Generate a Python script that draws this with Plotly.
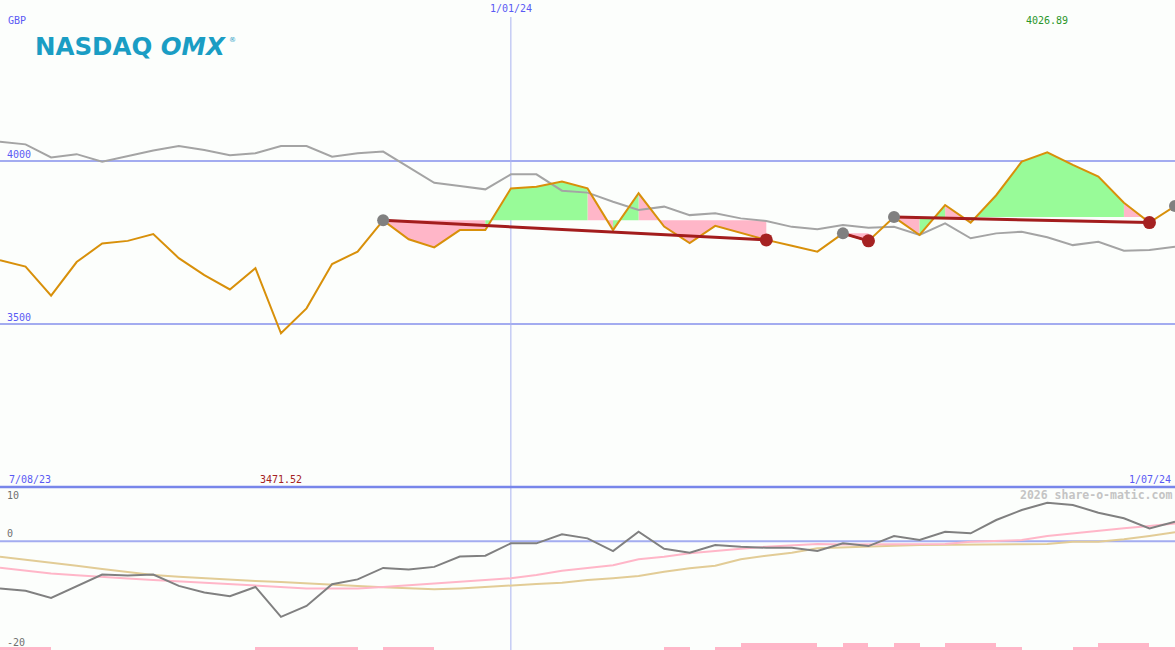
import plotly.graph_objects as go
import pandas as pd
import numpy as np

# ---------------- data ----------------
dates = pd.date_range("2023-08-14", "2024-07-01", freq="7D")  # weekly, 47 points

price = [3696, 3676, 3587, 3690, 3747, 3755, 3776, 3702, 3650, 3606, 3671, 3471.52,
         3548, 3684, 3722, 3818, 3760, 3735, 3788, 3788, 3916, 3921, 3937, 3916,
         3788, 3901, 3799, 3748, 3801, 3779, 3758, 3740, 3722, 3778, 3755, 3828,
         3773, 3865, 3811, 3895, 3998, 4026.89, 3988, 3952, 3872, 3811, 3862]

compare = [4059, 4051, 4011, 4021, 3998, 4015, 4032, 4046, 4034, 4018, 4024, 4046,
           4046, 4013, 4024, 4029, 3982, 3933, 3923, 3913, 3959, 3959, 3909, 3903,
           3875, 3850, 3860, 3834, 3840, 3824, 3816, 3798, 3791, 3804, 3795, 3798,
           3773, 3809, 3763, 3778, 3783, 3766, 3742, 3752, 3725, 3727, 3737]

momentum = [-8.66, -9.1, -10.4, -8.2, -6.1, -6.3, -6.1, -8.2, -9.4, -10.1, -8.4, -13.9,
            -11.9, -7.9, -7.0, -4.9, -5.2, -4.7, -2.8, -2.65, -0.37, -0.37, 1.29, 0.55,
            -1.79, 1.77, -1.36, -2.1, -0.68, -0.99, -1.18, -1.18, -1.79, -0.37, -0.87, 0.98,
            0.24, 1.77, 1.47, 3.92, 5.76, 7.1, 6.7, 5.27, 4.24, 2.39, 3.6]

mom_avg_fast = [-4.86, -5.4, -5.9, -6.25, -6.6, -6.85, -7.1, -7.35, -7.6, -7.8, -8.05, -8.35,
                -8.66, -8.7, -8.66, -8.4, -8.05, -7.7, -7.4, -7.1, -6.8, -6.2, -5.4, -4.86,
                -4.4, -3.3, -2.84, -2.2, -1.73, -1.36, -0.99, -0.81, -0.5, -0.6, -0.6, -0.6,
                -0.5, -0.5, -0.07, 0.1, 0.24, 0.98, 1.47, 1.96, 2.4, 2.8, 3.3]

mom_avg_slow = [-2.84, -3.35, -3.87, -4.5, -5.1, -5.65, -6.2, -6.5, -6.8, -7.05, -7.3, -7.5,
                -7.7, -7.95, -8.2, -8.45, -8.66, -8.84, -8.66, -8.36, -8.05, -7.86, -7.6, -7.1,
                -6.8, -6.4, -5.6, -4.97, -4.5, -3.3, -2.65, -2.1, -1.29, -1.1, -0.87, -0.8,
                -0.68, -0.68, -0.55, -0.55, -0.55, -0.5, -0.07, -0.07, 0.37, 0.98, 1.66]

# weekly activity level per interval (0 none, 1 low, 2 high)
activity = [1, 1, 0, 0, 0, 0, 0, 0, 0, 0, 1, 1, 1, 1, 0, 1, 1, 0, 0, 0, 0, 0, 0,
            0, 0, 0, 1, 0, 1, 2, 2, 2, 1, 2, 1, 2, 1, 2, 2, 1, 0, 0, 1, 2, 2, 1]

# signal groups: (start index, end index)
signal_groups = [(15, 30), (33, 34), (35, 45)]
open_signal = [46]

price_ticks = [3500, 4000]
mom_ticks = [10, 0, -20]
currency = "GBP"
mid_date = "2024-01-01"
mid_label = "1/01/24"
start_label = "7/08/23"
end_label = "1/07/24"
credit = "2026 share-o-matic.com"

# ---------------- figure ----------------
W, H = 1175, 650
LOW_FRAC = 163 / 650

BG = "#fcfefc"
BLUE_TXT = "#5a5af4"
GRID = "#a3acf0"
ORANGE = "#d8900a"
GREY = "#a4a4a4"
DARKRED = "#a31d1d"
PINK = "#ffb6c8"
GREEN = "#98fb98"
MONO = "DejaVu Sans Mono"

fig = go.Figure()

# fill polygons between price and group baseline
pink_x, pink_y, green_x, green_y = [], [], [], []
for s, e in signal_groups:
    base = price[s]
    for i in range(s, e):
        xs = [dates[i], dates[i], dates[i + 1], dates[i + 1], dates[i], None]
        ys = [base, price[i], price[i + 1], base, base, None]
        if price[i + 1] > base:
            green_x += xs; green_y += ys
        else:
            pink_x += xs; pink_y += ys

fig.add_trace(go.Scatter(x=pink_x, y=pink_y, fill="toself", fillcolor=PINK, mode="none",
                         hoverinfo="skip", showlegend=False, xaxis="x", yaxis="y"))
fig.add_trace(go.Scatter(x=green_x, y=green_y, fill="toself", fillcolor=GREEN, mode="none",
                         hoverinfo="skip", showlegend=False, xaxis="x", yaxis="y"))

fig.add_trace(go.Scatter(x=dates, y=compare, mode="lines", line=dict(color=GREY, width=2),
                         showlegend=False, xaxis="x", yaxis="y"))
fig.add_trace(go.Scatter(x=dates, y=price, mode="lines", line=dict(color=ORANGE, width=2),
                         showlegend=False, xaxis="x", yaxis="y"))

# trend lines
for s, e in signal_groups:
    fig.add_trace(go.Scatter(x=[dates[s], dates[e]], y=[price[s], price[e]], mode="lines",
                             line=dict(color=DARKRED, width=3), showlegend=False,
                             xaxis="x", yaxis="y"))

starts = [s for s, e in signal_groups] + open_signal
ends = [e for s, e in signal_groups]
fig.add_trace(go.Scatter(x=[dates[i] for i in starts], y=[price[i] for i in starts],
                         mode="markers", marker=dict(color="#808080", size=12),
                         showlegend=False, xaxis="x", yaxis="y"))
fig.add_trace(go.Scatter(x=[dates[i] for i in ends], y=[price[i] for i in ends],
                         mode="markers", marker=dict(color="#a52222", size=13),
                         showlegend=False, xaxis="x", yaxis="y"))

# lower panel
bar_x = [dates[i] + pd.Timedelta(days=3.5) for i in range(len(activity))]
fig.add_trace(go.Bar(x=bar_x, y=activity, width=7 * 24 * 3600 * 1000, marker_color=PINK,
                     marker_line_width=0, showlegend=False, xaxis="x", yaxis="y3"))
fig.add_trace(go.Scatter(x=dates, y=mom_avg_slow, mode="lines", line=dict(color="#e2cc96", width=2),
                         showlegend=False, xaxis="x", yaxis="y2"))
fig.add_trace(go.Scatter(x=dates, y=mom_avg_fast, mode="lines", line=dict(color="#ffb6c8", width=2),
                         showlegend=False, xaxis="x", yaxis="y2"))
fig.add_trace(go.Scatter(x=dates, y=momentum, mode="lines", line=dict(color="#808080", width=2),
                         showlegend=False, xaxis="x", yaxis="y2"))

shapes = []
for t in price_ticks:
    shapes.append(dict(type="line", xref="paper", x0=0, x1=1, yref="y", y0=t, y1=t,
                       line=dict(color=GRID, width=2), layer="below"))
shapes.append(dict(type="line", xref="paper", x0=0, x1=1, yref="y2", y0=0, y1=0,
                   line=dict(color=GRID, width=2), layer="below"))
shapes.append(dict(type="line", xref="x", x0=mid_date, x1=mid_date, yref="paper", y0=0,
                   y1=1 - 17 / H, line=dict(color="#aab2f0", width=1), layer="below"))
shapes.append(dict(type="line", xref="paper", x0=0, x1=1, yref="paper", y0=LOW_FRAC, y1=LOW_FRAC,
                   line=dict(color="#7886ea", width=2.5)))

ann = []
def txt(text, x, y, color, size=10, xanchor="left", yanchor="middle", xref="paper", yref="paper", family=MONO):
    ann.append(dict(text=text, x=x, y=y, xref=xref, yref=yref, showarrow=False,
                    xanchor=xanchor, yanchor=yanchor, font=dict(family=family, size=size, color=color)))

txt(currency, 6 / W, 1 - 21 / H, BLUE_TXT)
txt(mid_label, mid_date, 1 - 9 / H, BLUE_TXT, xanchor="center", xref="x")
imax = int(np.argmax(price)); imin = int(np.argmin(price))
txt(f"{price[imax]:.2f}", dates[imax], 1 - 21 / H, "#2a962a", xanchor="center", xref="x")
txt(f"{price[imin]:.2f}", dates[imin], 1 - 479 / H, "#a52222", xanchor="center", xref="x")
txt(start_label, 7 / W, 1 - 479 / H, BLUE_TXT)
txt(end_label, 1173 / W, 1 - 479 / H, BLUE_TXT, xanchor="right")
for t in price_ticks:
    ann.append(dict(text=str(t), x=5 / W, xref="paper", y=t, yref="y", showarrow=False,
                    xanchor="left", yanchor="bottom", yshift=-1,
                    font=dict(family=MONO, size=10, color=BLUE_TXT)))
for t in mom_ticks:
    ya = "top" if t == max(mom_ticks) else "bottom"
    ann.append(dict(text=str(t), x=5 / W, xref="paper", y=t, yref="y2", showarrow=False,
                    xanchor="left", yanchor=ya, yshift=(-1 if ya == "top" else 0),
                    font=dict(family=MONO, size=10, color="#707070")))
txt("<b>" + credit + "</b>", 1174 / W, 1 - 495 / H, "#c4c4c4", size=11.5, xanchor="right")
txt("<b>NASDAQ <i>OMX</i></b>", 33 / W, 1 - 46 / H, "#1a9dc4", size=24.5, family="DejaVu Sans")
txt("®", 227 / W, 1 - 40 / H, "#1a9dc4", size=7, family="DejaVu Sans")

fig.update_layout(
    width=W, height=H,
    margin=dict(l=0, r=0, t=0, b=0),
    paper_bgcolor=BG, plot_bgcolor=BG,
    showlegend=False,
    bargap=0,
    xaxis=dict(range=[dates[0], dates[-1]], visible=False, showgrid=False, zeroline=False),
    yaxis=dict(domain=[LOW_FRAC, 1], range=[3000, 3000 + 487 / 0.326], visible=False,
               showgrid=False, zeroline=False),
    yaxis2=dict(domain=[0, LOW_FRAC], range=[-20, 10], visible=False, showgrid=False,
                zeroline=False, anchor="x"),
    yaxis3=dict(domain=[0, LOW_FRAC], range=[0, 49], visible=False, overlaying="y2",
                showgrid=False, zeroline=False, anchor="x"),
    shapes=shapes,
    annotations=ann,
)

fig.write_html("out.html", config={"displayModeBar": False},
               post_script="document.body.style.margin='0px';document.body.style.overflow='hidden';")
